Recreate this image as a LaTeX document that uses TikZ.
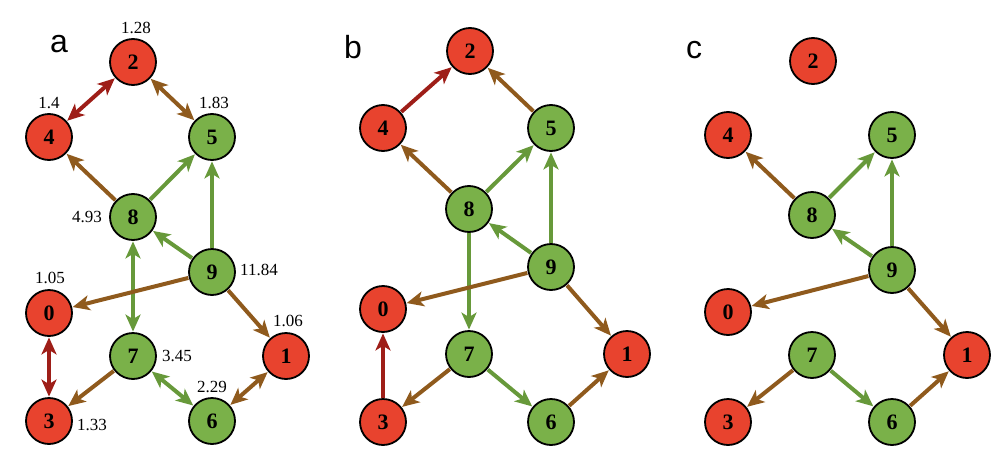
\documentclass[tikz,border=0pt]{standalone}
\usepackage{fontspec}
\setmainfont{Liberation Serif}
\newfontfamily\letterfont{Liberation Sans}
\usetikzlibrary{arrows.meta}
\definecolor{nodered}{HTML}{E8432E}
\definecolor{nodegreen}{HTML}{7AB149}
\definecolor{edgered}{HTML}{9E1E18}
\definecolor{edgebrown}{HTML}{8F5A1D}
\definecolor{edgegreen}{HTML}{67993A}
\tikzset{
  vert/.style={circle, draw=black, line width=1.8pt, minimum size=46pt, inner sep=0pt,
    font=\fontsize{22}{22}\selectfont\bfseries},
  rv/.style={vert, fill=nodered},
  gv/.style={vert, fill=nodegreen},
  val/.style={font=\fontsize{17}{17}\selectfont, inner sep=0pt},
  plabel/.style={font=\letterfont\fontsize{32}{32}\selectfont, anchor=base, inner sep=0pt},
  edge/.style={line width=4pt, shorten <=0.5pt, shorten >=0.5pt},
  one/.style={edge, -{Stealth[length=17pt, width=15pt, inset=4.5pt]}},
  two/.style={edge, {Stealth[length=17pt, width=15pt, inset=4.5pt]}-{Stealth[length=17pt, width=15pt, inset=4.5pt]}},
  er/.style={draw=edgered, fill=edgered},
  eb/.style={draw=edgebrown, fill=edgebrown},
  eg/.style={draw=edgegreen, fill=edgegreen},
}
\begin{document}
\begin{tikzpicture}[x=1pt, y=-1pt]
\useasboundingbox (0,0) rectangle (1002,466);
% ---------- panel a ----------
\node[plabel] (la) at (59,52) {a};
\node[rv] (a2) at (133,62) {2};
\node[rv] (a4) at (49,137) {4};
\node[gv] (a5) at (212,137) {5};
\node[gv] (a8) at (133,217) {8};
\node[gv] (a9) at (212,272) {9};
\node[rv] (a0) at (49,313) {0};
\node[gv] (a7) at (133,356) {7};
\node[rv] (a1) at (286,356) {1};
\node[rv] (a3) at (49,421) {3};
\node[gv] (a6) at (212,421) {6};
\node[val] (va2) at (136,28) {1.28};
\node[val] (va4) at (49,103) {1.4};
\node[val] (va5) at (214,103) {1.83};
\node[val] (va8) at (87,217) {4.93};
\node[val] (va9) at (259,270) {11.84};
\node[val] (va0) at (50,278) {1.05};
\node[val] (va7) at (177,356) {3.45};
\node[val] (va1) at (288,321) {1.06};
\node[val] (va3) at (92,425) {1.33};
\node[val] (va6) at (212,387) {2.29};
\draw[two, er] (a2) -- (a4);
\draw[two, eb] (a2) -- (a5);
\draw[one, eb] (a8) -- (a4);
\draw[one, eg] (a8) -- (a5);
\draw[one, eg] (a9) -- (a5);
\draw[one, eg] (a9) -- (a8);
\draw[two, eg] (a8) -- (a7);
\draw[one, eb] (a9) -- (a0);
\draw[one, eb] (a9) -- (a1);
\draw[two, er] (a0) -- (a3);
\draw[one, eb] (a7) -- (a3);
\draw[two, eg] (a7) -- (a6);
\draw[two, eb] (a6) -- (a1);
% ---------- panel b ----------
\node[plabel] (lb) at (353,58) {b};
\node[rv] (b2) at (470,51) {2};
\node[rv] (b4) at (383,128) {4};
\node[gv] (b5) at (551,128) {5};
\node[gv] (b8) at (469,209) {8};
\node[gv] (b9) at (551,267) {9};
\node[rv] (b0) at (383,309) {0};
\node[gv] (b7) at (469,354) {7};
\node[rv] (b1) at (627,354) {1};
\node[rv] (b3) at (383,422) {3};
\node[gv] (b6) at (551,422) {6};
\draw[one, er] (b4) -- (b2);
\draw[one, eb] (b5) -- (b2);
\draw[one, eb] (b8) -- (b4);
\draw[one, eg] (b8) -- (b5);
\draw[one, eg] (b9) -- (b5);
\draw[one, eg] (b9) -- (b8);
\draw[one, eg] (b8) -- (b7);
\draw[one, eb] (b9) -- (b0);
\draw[one, eb] (b9) -- (b1);
\draw[one, er] (b3) -- (b0);
\draw[one, eb] (b7) -- (b3);
\draw[one, eg] (b7) -- (b6);
\draw[one, eb] (b6) -- (b1);
% ---------- panel c ----------
\node[plabel] (lc) at (694,58) {c};
\node[rv] (c2) at (813,61) {2};
\node[rv] (c4) at (728,135) {4};
\node[gv] (c5) at (892,135) {5};
\node[gv] (c8) at (812,215) {8};
\node[gv] (c9) at (892,270) {9};
\node[rv] (c0) at (728,312) {0};
\node[gv] (c7) at (812,355) {7};
\node[rv] (c1) at (967,355) {1};
\node[rv] (c3) at (728,422) {3};
\node[gv] (c6) at (892,422) {6};
\draw[one, eb] (c8) -- (c4);
\draw[one, eg] (c8) -- (c5);
\draw[one, eg] (c9) -- (c5);
\draw[one, eg] (c9) -- (c8);
\draw[one, eb] (c9) -- (c0);
\draw[one, eb] (c9) -- (c1);
\draw[one, eb] (c7) -- (c3);
\draw[one, eg] (c7) -- (c6);
\draw[one, eb] (c6) -- (c1);
\end{tikzpicture}
\end{document}
